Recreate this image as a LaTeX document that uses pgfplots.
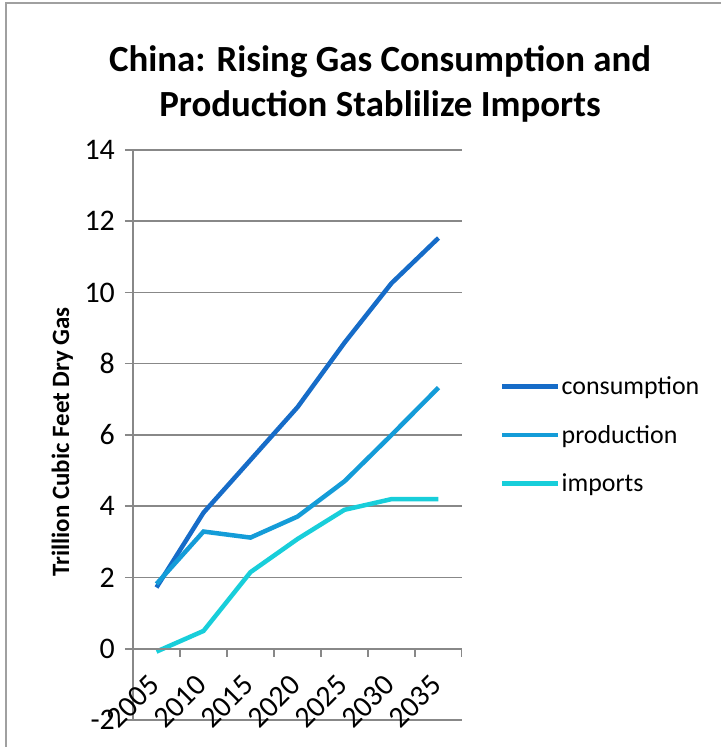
\documentclass[border=0pt]{standalone}
\usepackage{fontspec}
\setmainfont{Carlito}
\usepackage{pgfplots}
\pgfplotsset{compat=1.18}
\definecolor{cons}{RGB}{22,108,200}
\definecolor{prod}{RGB}{20,156,216}
\definecolor{imp}{RGB}{24,206,218}
\definecolor{gridc}{RGB}{136,136,136}
\newcommand{\xf}{\fontsize{30}{36}\selectfont}
\newcommand{\yf}{\fontsize{30}{36}\selectfont}
\begin{document}
\begin{tikzpicture}
\useasboundingbox (-133bp,-27bp) rectangle (588bp,720bp);
\draw[gridc!80, line width=1.2bp] (-127bp,-27bp) -- (-127bp,717bp) -- (588bp,717bp);
\node[font=\bfseries\fontsize{37}{45}\selectfont, anchor=base] at (247bp,648bp) {China: Rising Gas Consumption and};
\node[font=\bfseries\fontsize{37}{45}\selectfont, anchor=base] at (247bp,603bp) {Production Stablilize Imports};
\begin{axis}[
  at={(0,0)}, anchor=south west,
  scale only axis, width=329bp, height=570bp,
  xmin=0, xmax=7, ymin=-2, ymax=14,
  axis lines*=left,
  axis line style={gridc, line width=1.5bp},
  ytick={-2,0,2,4,6,8,10,12,14},
  yticklabels={-2,0,2,4,6,8,10,12,14},
  ymajorgrids, grid style={gridc, line width=1.5bp},
  tick align=outside, major tick length=8bp,
  ytick style={gridc, line width=1.5bp},
  xtick={0.5,1.5,2.5,3.5,4.5,5.5,6.5},
  xticklabels={2005,2010,2015,2020,2025,2030,2035},
  xtick style={draw=none},
  x tick label style={font=\xf, anchor=base east, inner sep=0pt, xshift=5bp, yshift=41bp, rotate=45},
  y tick label style={font=\yf, inner sep=0pt, xshift=-10bp},
  ylabel={Trillion Cubic Feet Dry Gas},
  ylabel style={font=\bfseries\fontsize{25}{30}\selectfont, at={(rel axis cs:-0.215,0.488)}, anchor=center, rotate=0},
  legend style={draw=none, fill=none, at={(1,0.5)}, anchor=west, xshift=38bp, inner sep=0pt,
    font=\fontsize{26}{31}\selectfont, row sep=27bp,
    nodes={inner sep=1bp}},
  legend cell align=left,
  legend image code/.code={\draw[#1, line width=4.5bp] (0bp,0bp) -- (56bp,0bp);},
]
\addplot[cons, line width=4.5bp] coordinates {(0.5,1.72) (1.5,3.82) (2.5,5.30) (3.5,6.78) (4.5,8.59) (5.5,10.26) (6.5,11.53)};
\addlegendentry{consumption}
\addplot[prod, line width=4.5bp] coordinates {(0.5,1.82) (1.5,3.29) (2.5,3.12) (3.5,3.71) (4.5,4.70) (5.5,6.00) (6.5,7.33)};
\addlegendentry{production}
\addplot[imp, line width=4.5bp] coordinates {(0.5,-0.08) (1.5,0.50) (2.5,2.15) (3.5,3.08) (4.5,3.90) (5.5,4.20) (6.5,4.20)};
\addlegendentry{imports}
\draw[gridc, line width=1.5bp] (axis cs:0,0) -- (axis cs:7,0);
\pgfplotsinvokeforeach{1,2,3,4,5,6,7}{\draw[gridc, line width=1.5bp] (axis cs:#1,0) -- ++(0bp,-8bp);}
\end{axis}
\end{tikzpicture}
\end{document}
